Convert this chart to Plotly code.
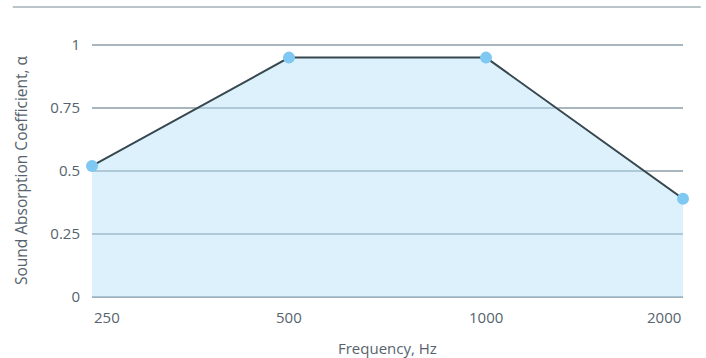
import plotly.graph_objects as go

categories = ["250", "500", "1000", "2000"]
absorption = [0.52, 0.95, 0.95, 0.39]
y_ticks = [0, 0.25, 0.5, 0.75, 1]
y_tick_labels = ["0", "0.25", "0.5", "0.75", "1"]

x_pos = list(range(len(categories)))
font_family = "Open Sans"
text_color = "#56636d"
fs = 15

fig = go.Figure()
fig.add_trace(go.Scatter(
    x=x_pos, y=absorption, mode="lines+markers",
    fill="tozeroy", fillcolor="rgba(180,224,248,0.45)",
    line=dict(color="#37474f", width=2),
    marker=dict(color="#7fc8f2", size=12),
    cliponaxis=False, hoverinfo="skip", showlegend=False,
))

fig.update_layout(
    width=706, height=358,
    margin=dict(l=92, r=23, t=43, b=61),
    paper_bgcolor="white", plot_bgcolor="white",
    font=dict(family=font_family, size=fs, color=text_color),
    xaxis=dict(range=[0, len(categories) - 1], showgrid=False, zeroline=False,
               showticklabels=False, showline=False, fixedrange=True),
    yaxis=dict(range=[0, 1.008], tickvals=y_ticks, ticktext=y_tick_labels,
               showgrid=True, gridcolor="#a9b6be", gridwidth=1.3,
               zeroline=True, zerolinecolor="#a3b0b8", zerolinewidth=2.2,
               showline=False, ticks="", ticklabelstandoff=11,
               tickfont=dict(size=fs, color=text_color), fixedrange=True),
)

n = len(categories)
for i, lab in enumerate(categories):
    anchor = "left" if i == 0 else ("right" if i == n - 1 else "center")
    fig.add_annotation(x=x_pos[i], y=-0.079, xref="x", yref="paper",
                       text=lab, showarrow=False, xanchor=anchor, yanchor="middle",
                       font=dict(size=fs, color=text_color))

fig.add_annotation(x=0.5, y=-0.2, xref="paper", yref="paper",
                   text="Frequency, Hz", showarrow=False,
                   xanchor="center", yanchor="middle",
                   font=dict(size=fs, color=text_color))
fig.add_annotation(x=-0.12, y=0.5, xref="paper", yref="paper",
                   text="Sound Absorption Coefficient, α", textangle=-90,
                   showarrow=False, xanchor="center", yanchor="middle",
                   font=dict(size=15.5, color=text_color))

# top border line
fig.add_shape(type="line", xref="paper", yref="paper",
              x0=-0.134, x1=1.03, y0=1.142, y1=1.142,
              line=dict(color="#b9c4cb", width=2))

fig.write_html("out.html",
               config={"displayModeBar": False, "staticPlot": True},
               post_script="document.body.style.margin='0';document.body.style.overflow='hidden';")
